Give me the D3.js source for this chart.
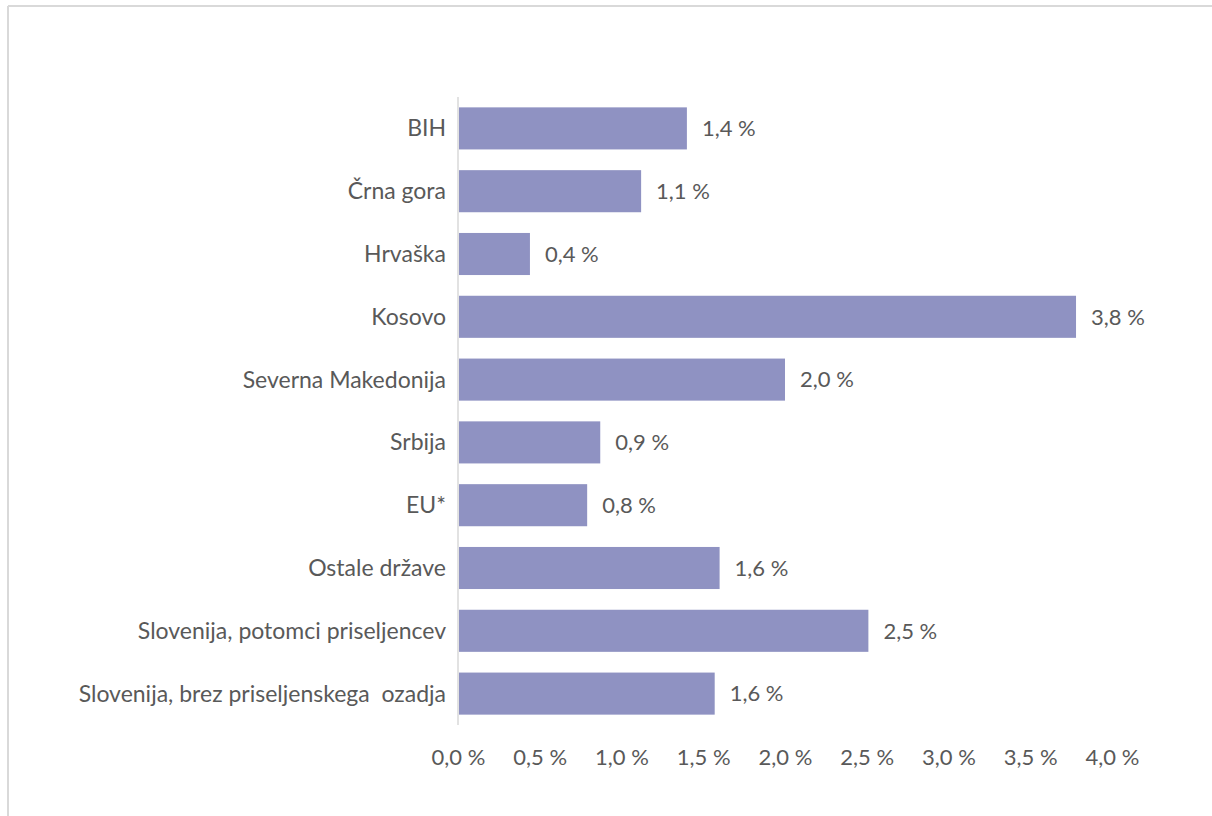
<!DOCTYPE html>
<html><head><meta charset="utf-8">
<script src="https://cdn.jsdelivr.net/npm/d3@7"></script>
<style>
html,body{margin:0;padding:0;background:#fff;}
svg text{font-family:Lato,"Open Sans",sans-serif;fill:#595959;}
</style></head>
<body>
<svg id="chart" width="1212" height="816"></svg>
<script>
const categories = ["BIH","Črna gora","Hrvaška","Kosovo","Severna Makedonija","Srbija","EU*","Ostale države","Slovenija, potomci priseljencev","Slovenija, brez priseljenskega  ozadja"];
const values = [1.40, 1.12, 0.44, 3.78, 2.00, 0.87, 0.79, 1.60, 2.51, 1.57];
const valueLabels = ["1,4 %","1,1 %","0,4 %","3,8 %","2,0 %","0,9 %","0,8 %","1,6 %","2,5 %","1,6 %"];
const tickValues = [0,0.5,1,1.5,2,2.5,3,3.5,4];
const tickLabels = ["0,0 %","0,5 %","1,0 %","1,5 %","2,0 %","2,5 %","3,0 %","3,5 %","4,0 %"];

const svg = d3.select("#chart");
// frame (top and left edges visible)
svg.append("line").attr("x1",8).attr("x2",1212).attr("y1",6).attr("y2",6).attr("stroke","#d9d9d9").attr("stroke-width",2);
svg.append("line").attr("x1",8).attr("x2",8).attr("y1",6).attr("y2",816).attr("stroke","#d9d9d9").attr("stroke-width",2);

const x = d3.scaleLinear().domain([0,4]).range([458,1112]);
const y = d3.scaleBand().domain(categories).range([97,725]).paddingInner(0.33).paddingOuter(0.165);

svg.append("g").selectAll("rect").data(categories).join("rect")
  .attr("x", x(0)+1)
  .attr("y", d=>y(d))
  .attr("width", (d,i)=>x(values[i])-x(0)-1)
  .attr("height", y.bandwidth())
  .attr("fill","#8f92c2");

// vertical axis line
svg.append("line").attr("x1",x(0)).attr("x2",x(0)).attr("y1",97).attr("y2",725).attr("stroke","#d9d9d9").attr("stroke-width",1.5);

// category labels
svg.append("g").selectAll("text").data(categories).join("text")
  .attr("x", 446)
  .attr("y", d=>y(d)+y.bandwidth()/2)
  .attr("dy","0.35em")
  .attr("text-anchor","end")
  .attr("font-size",23)
  .attr("xml:space","preserve")
  .text(d=>d);

// value labels
svg.append("g").selectAll("text").data(categories).join("text")
  .attr("x", (d,i)=>x(values[i])+15)
  .attr("y", d=>y(d)+y.bandwidth()/2)
  .attr("dy","0.35em")
  .attr("font-size",22)
  .text((d,i)=>valueLabels[i]);

// x-axis
const xAxis = d3.axisBottom(x).tickValues(tickValues).tickFormat((d,i)=>tickLabels[i]).tickSize(0).tickPadding(0);
const gx = svg.append("g").attr("transform","translate(0,749)").call(xAxis);
gx.select(".domain").remove();
gx.selectAll("text").attr("font-size",22).attr("fill","#595959").style("font-family","Lato, 'Open Sans', sans-serif").attr("dy","0.71em");
</script>
</body></html>
